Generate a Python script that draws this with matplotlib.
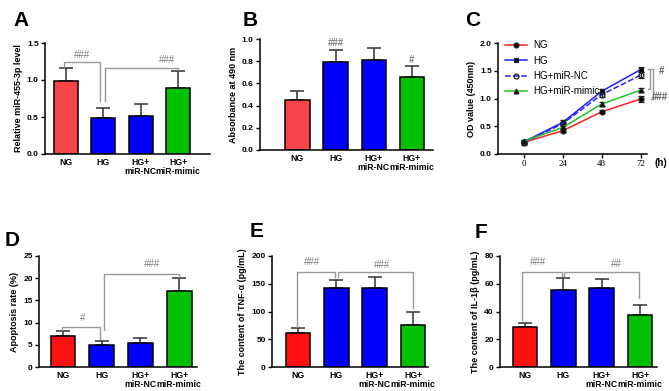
import numpy as np
import matplotlib.pyplot as plt

plt.rcParams['font.family'] = ['Liberation Sans', 'DejaVu Sans']
plt.rcParams['font.weight'] = 'bold'
plt.rcParams['axes.labelweight'] = 'bold'

groups = ['NG', 'HG', 'HG+\nmiR-NC', 'HG+\nmiR-mimic']

# A: relative miR-455-3p level
a_mean = [0.99, 0.49, 0.52, 0.89]
a_err = [0.17, 0.13, 0.16, 0.23]
# B: absorbance at 490 nm
b_mean = [0.446, 0.79, 0.81, 0.66]
b_err = [0.085, 0.11, 0.11, 0.10]
# C: OD value over time
c_hours = [0, 24, 48, 72]
c_ng = [0.21, 0.42, 0.76, 0.99]
c_hg = [0.22, 0.57, 1.13, 1.52]
c_nc = [0.20, 0.55, 1.07, 1.42]
c_mimic = [0.23, 0.48, 0.90, 1.15]
c_err_ng = [0.03, 0.03, 0.03, 0.05]
c_err_hg = [0.03, 0.04, 0.04, 0.05]
c_err_nc = [0.03, 0.03, 0.04, 0.05]
c_err_mimic = [0.03, 0.03, 0.04, 0.04]
# D: apoptosis rate
d_mean = [7.0, 4.9, 5.5, 17.2]
d_err = [1.0, 1.0, 1.1, 2.9]
# E: TNF-alpha
e_mean = [61, 142, 142, 76]
e_err = [9, 15, 20, 23]
# F: IL-1beta
f_mean = [28.8, 55.5, 57, 37.5]
f_err = [3.1, 8.5, 6.5, 7.5]

W, H = 669, 391
fig = plt.figure(figsize=(W / 100, H / 100), dpi=100)


def px_axes(left, right, top, bottom):
    return fig.add_axes([left / W, 1 - bottom / H, (right - left) / W, (bottom - top) / H])


def style(ax):
    for s in ['top', 'right']:
        ax.spines[s].set_visible(False)
    for s in ['left', 'bottom']:
        ax.spines[s].set_linewidth(1.1)
    ax.tick_params(axis='both', labelsize=6, width=1.0, length=3, pad=1.5)
    for lab in ax.get_yticklabels() + ax.get_xticklabels():
        lab.set_fontweight('bold')


def bars(ax, mean, err, colors, ylim, yticks, fmt, ylabel, xlim):
    x = np.arange(len(mean))
    ax.bar(x, mean, width=0.64, color=colors, edgecolor='black', linewidth=1.1, zorder=2)
    ax.errorbar(x, mean, yerr=[np.zeros(len(err)), err], fmt='none', ecolor='#303030',
                elinewidth=1.1, capsize=5, capthick=1.1, zorder=1)
    ax.set_xlim(*xlim)
    ax.set_ylim(*ylim)
    ax.set_yticks(yticks)
    ax.set_yticklabels([fmt.format(v) for v in yticks])
    ax.set_xticks(x)
    ax.set_xticklabels(groups, linespacing=1.0)
    ax.set_ylabel(ylabel, fontsize=6.5, labelpad=3)
    style(ax)
    ax.tick_params(axis='x', length=0, pad=3, labelsize=6.2)


def bracket(ax, x1, x2, top, low1, low2, text, tx, ty):
    ax.plot([x1, x1, x2, x2], [low1, top, top, low2], color='#999999', lw=1.0,
            clip_on=False, zorder=3)
    ax.text(tx, ty, text, fontsize=7, color='#808080', ha='center', va='bottom',
            fontweight='normal')


red_a = '#F94449'
red = '#FF1010'
blue = '#0000FF'
green = '#00C000'

# A
axA = px_axes(45, 210, 43, 154)
bars(axA, a_mean, a_err, [red_a, blue, blue, green], (0, 1.5), [0, 0.5, 1.0, 1.5], '{:.1f}',
     'Relative miR-455-3p level', (-0.55, 3.85))
bracket(axA, -0.05, 0.92, 1.25, 1.18, 0.72, '###', 0.45, 1.27)
bracket(axA, 1.05, 3.0, 1.16, 0.71, 1.13, '###', 2.7, 1.20)

# B
axB = px_axes(260, 433, 39, 150)
bars(axB, b_mean, b_err, [red_a, blue, blue, green], (0, 1.0), [0, 0.2, 0.4, 0.6, 0.8, 1.0], '{:.1f}',
     'Absorbance at 490 nm', (-0.98, 3.55))
axB.text(1, 0.92, '###', fontsize=7, color='#808080', ha='center', va='bottom')
axB.text(3, 0.77, '#', fontsize=7, color='#808080', ha='center', va='bottom')

# C
axC = px_axes(498, 647, 43, 154)
series = [
    ('NG', c_ng, c_err_ng, '#FF2020', '-', 'o', 'black'),
    ('HG', c_hg, c_err_hg, '#2020FF', '-', 's', 'black'),
    ('HG+miR-NC', c_nc, c_err_nc, '#2020FF', '--', 'o', 'none'),
    ('HG+miR-mimic', c_mimic, c_err_mimic, '#20C020', '-', '^', 'black'),
]
for name, vals, err, col, ls, mk, mfc in series:
    axC.plot(c_hours, vals, color=col, ls=ls, lw=1.1, marker=mk, ms=3.5,
             mfc=mfc, mec='#202020', mew=0.9, label=name, zorder=3)
    axC.errorbar(c_hours, vals, yerr=err, fmt='none', ecolor='#202020', elinewidth=0.9,
                 capsize=2, capthick=0.9, zorder=2)
axC.set_xlim(-16, 76)
axC.set_ylim(0, 2.0)
axC.set_yticks([0, 0.5, 1.0, 1.5, 2.0])
axC.set_yticklabels(['0.0', '0.5', '1.0', '1.5', '2.0'])
axC.set_xticks(c_hours)
axC.set_ylabel('OD value (450nm)', fontsize=6.5, labelpad=3)
style(axC)
for lab in axC.get_xticklabels():
    lab.set_fontfamily('Liberation Serif')
    lab.set_fontweight('normal')
    lab.set_fontsize(6.5)
axC.text(1.09, -0.085, '(h)', transform=axC.transAxes, fontsize=7, ha='center', va='center')
leg = axC.legend(loc='upper left', bbox_to_anchor=(0.02, 1.06), frameon=False,
                 prop={'size': 7, 'weight': 'normal'}, handlelength=2.3,
                 labelspacing=0.55, handletextpad=0.6, borderaxespad=0)
axC.plot([76.5, 78, 78, 76.5], [1.53, 1.53, 1.17, 1.17], color='#999999', lw=1.0, clip_on=False)
axC.plot([78.5, 80, 80, 78.5], [1.53, 1.53, 0.99, 0.99], color='#999999', lw=1.0, clip_on=False)
axC.text(85, 1.40, '#', fontsize=7, color='#606060', ha='center', va='bottom', clip_on=False)
axC.text(84, 0.93, '###', fontsize=7, color='#606060', ha='center', va='bottom', clip_on=False)

# D
axD = px_axes(39, 197, 256, 367)
bars(axD, d_mean, d_err, [red, blue, blue, green], (0, 25), [0, 5, 10, 15, 20, 25], '{:d}',
     'Apoptosis rate (%)', (-0.62, 3.46))
bracket(axD, -0.02, 0.95, 9.0, 8.3, 6.4, '#', 0.5, 9.8)
bracket(axD, 1.05, 3.0, 20.9, 8.3, 20.3, '###', 2.3, 22.0)

# E
axE = px_axes(272, 428, 256, 367)
bars(axE, e_mean, e_err, [red, blue, blue, green], (0, 200), [0, 50, 100, 150, 200], '{:d}',
     'The content of TNF-α (pg/mL)', (-0.68, 3.39))
bracket(axE, -0.03, 0.97, 171, 72, 163, '###', 0.37, 180)
bracket(axE, 1.03, 3.0, 171, 163, 106, '###', 2.2, 175)

# F
axF = px_axes(500, 657, 256, 367)
bars(axF, f_mean, f_err, [red, blue, blue, green], (0, 80), [0, 20, 40, 60, 80], '{:d}',
     'The content of IL-1β (pg/mL)', (-0.65, 3.44))
bracket(axF, -0.07, 0.97, 68.5, 34, 65.6, '###', 0.34, 72)
bracket(axF, 1.03, 2.98, 68.5, 65.6, 49.5, '##', 2.38, 70.5)

# panel letters
for letter, px, py in [('A', 13, 26), ('B', 243, 26), ('C', 465, 26),
                       ('D', 5, 246), ('E', 250, 237), ('F', 475, 238)]:
    fig.text(px / W, 1 - py / H, letter, fontsize=15, fontweight='bold', ha='left', va='baseline')

fig.savefig('out.png', dpi=100)
